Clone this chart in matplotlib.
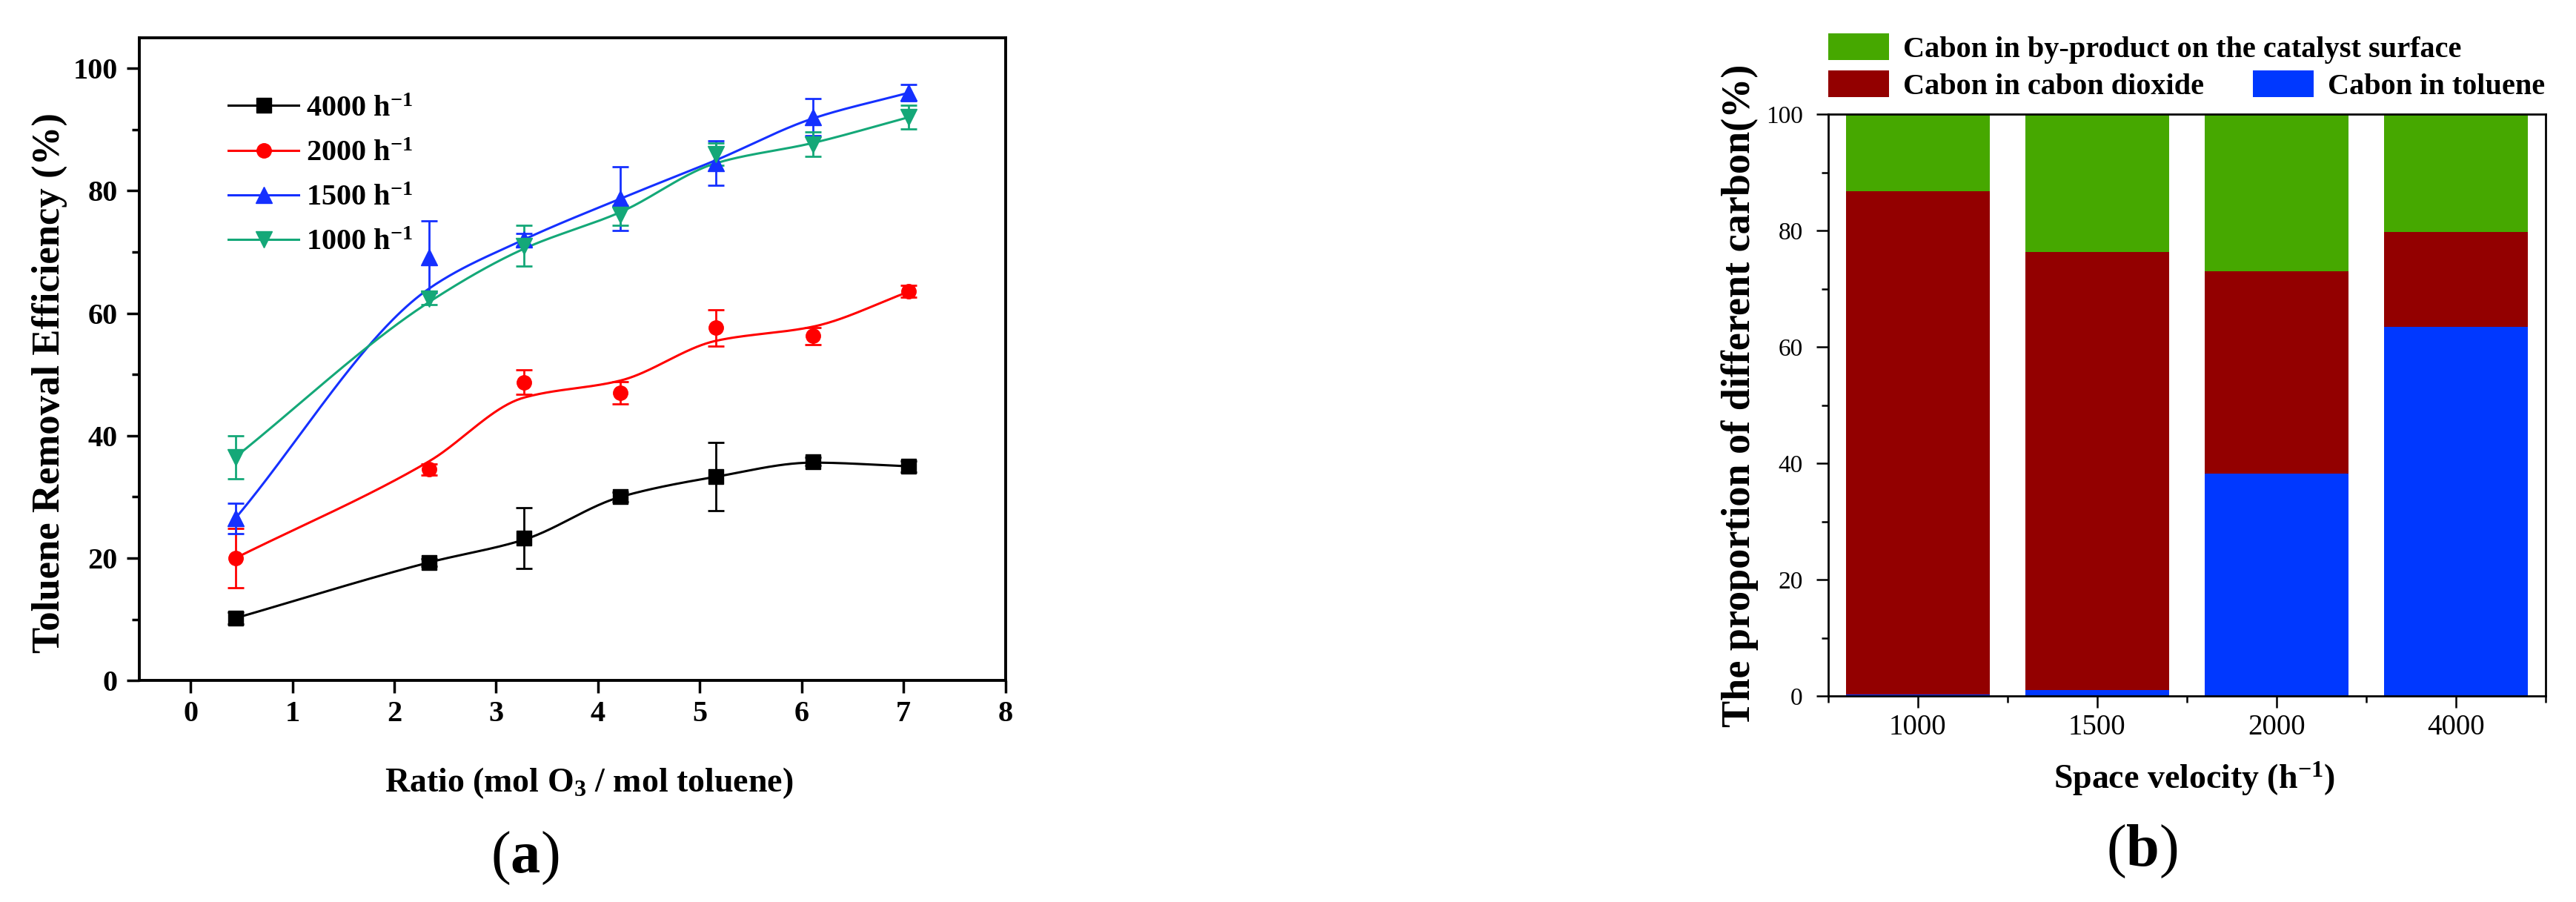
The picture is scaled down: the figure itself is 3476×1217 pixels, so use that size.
import matplotlib
matplotlib.use('Agg')
import matplotlib.pyplot as plt
import numpy as np
from matplotlib.patches import Patch

plt.rcParams['font.family'] = ['Liberation Serif', 'DejaVu Serif']
plt.rcParams['mathtext.fontset'] = 'custom'
plt.rcParams['mathtext.rm'] = 'Liberation Serif'
plt.rcParams['mathtext.bf'] = 'Liberation Serif:bold'
plt.rcParams['mathtext.it'] = 'Liberation Serif:italic'

# ---- panel (a): removal efficiency vs O3/toluene ratio
ratio = [0.44, 2.34, 3.27, 4.22, 5.16, 6.11, 7.05]
velocities = ['4000', '2000', '1500', '1000']

eff_4000 = [10.2, 19.3, 23.3, 30.0, 33.3, 35.8, 35.0]
err_4000 = [1.0, 0.6, 5.0, 0.8, 5.6, 0.7, 0.9]
fit_4000 = [10.2, 19.3, 23.0, 30.0, 33.3, 35.6, 35.0]

eff_2000 = [20.0, 34.5, 48.7, 47.0, 57.6, 56.3, 63.6]
err_2000 = [4.8, 0.9, 2.0, 1.8, 3.0, 1.4, 1.0]
fit_2000 = [20.0, 35.8, 46.2, 49.0, 55.5, 57.8, 63.5]

eff_1500 = [26.5, 69.2, 72.0, 78.7, 84.5, 92.0, 96.0]
err_1500 = [2.5, 5.9, 1.0, 5.2, 3.6, 3.0, 1.3]
fit_1500 = [26.5, 64.0, 72.0, 78.7, 85.0, 91.8, 96.0]

eff_1000 = [36.5, 62.4, 71.0, 76.0, 86.0, 87.6, 92.0]
err_1000 = [3.5, 1.0, 3.3, 1.6, 1.8, 2.0, 1.9]
fit_1000 = [36.5, 61.8, 70.5, 76.5, 84.5, 87.8, 92.0]

# ---- panel (b): carbon balance
space_velocity = ['1000', '1500', '2000', '4000']
c_toluene = np.array([0.3, 1.0, 38.2, 63.5])
c_co2 = np.array([86.5, 75.3, 34.8, 16.3])
c_byproduct = 100 - c_toluene - c_co2
legend_b = ['Cabon in by-product on the catalyst surface',
            'Cabon in cabon dioxide', 'Cabon in toluene']


def pchip(x, y, n=300):
    # monotone cubic curve through the nodes, like Origin's spline connect
    x = np.asarray(x, float)
    y = np.asarray(y, float)
    h = np.diff(x)
    d = np.diff(y) / h
    m = np.zeros_like(y)
    m[0], m[-1] = d[0], d[-1]
    for k in range(1, len(x) - 1):
        if d[k - 1] * d[k] > 0:
            w1 = 2 * h[k] + h[k - 1]
            w2 = h[k] + 2 * h[k - 1]
            m[k] = (w1 + w2) / (w1 / d[k - 1] + w2 / d[k])
    xs = np.linspace(x[0], x[-1], n)
    i = np.clip(np.searchsorted(x, xs) - 1, 0, len(x) - 2)
    t = (xs - x[i]) / h[i]
    h00 = 2 * t**3 - 3 * t**2 + 1
    h10 = t**3 - 2 * t**2 + t
    h01 = -2 * t**3 + 3 * t**2
    h11 = t**3 - t**2
    ys = h00 * y[i] + h10 * h[i] * m[i] + h01 * y[i + 1] + h11 * h[i] * m[i + 1]
    return xs, ys


fig = plt.figure(figsize=(34.76, 12.17), dpi=100)

ax1 = fig.add_axes([0.0542, 0.2454, 0.3361, 0.7129])
series = [
    (eff_4000, err_4000, fit_4000, '#000000', 's', 14),
    (eff_2000, err_2000, fit_2000, '#ff0000', 'o', 14),
    (eff_1500, err_1500, fit_1500, '#1530ff', '^', 16),
    (eff_1000, err_1000, fit_1000, '#14a878', 'v', 16),
]
handles = []
for (eff, err, fit, col, mk, ms), v in zip(series, velocities):
    xs, ys = pchip(ratio, fit)
    ax1.plot(xs, ys, color=col, lw=2.2, zorder=2)
    ax1.errorbar(ratio, eff, yerr=err, fmt=mk, color=col, ms=ms,
                 capsize=8, elinewidth=2, capthick=2, zorder=3)
    h, = ax1.plot([], [], color=col, marker=mk, ms=ms, lw=2.2,
                  label=v + r' h$^{\mathbf{-1}}$')
    handles.append(h)

ax1.set_xlim(-0.5, 8)
ax1.set_ylim(0, 105)
ax1.set_xticks(range(0, 9))
ax1.set_yticks(range(0, 101, 20))
ax1.set_yticks(range(10, 100, 20), minor=True)
ax1.tick_params(axis='both', which='major', direction='out', length=12.5, width=2.5,
                labelsize=29)
ax1.tick_params(axis='x', which='major', pad=7)
ax1.tick_params(axis='y', which='major', pad=9)
ax1.tick_params(axis='y', which='minor', direction='out', length=7, width=2.5)
for lbl in ax1.get_xticklabels() + ax1.get_yticklabels():
    lbl.set_fontweight('bold')
for sp in ax1.spines.values():
    sp.set_linewidth(2.8)
ax1.set_xlabel(r'Ratio (mol O$_{\mathbf{3}}$ / mol toluene)', fontsize=33,
               fontweight='bold')
ax1.xaxis.set_label_coords(0.519, -0.132)
ax1.set_ylabel('Toluene Removal Efficiency (%)', fontsize=38, fontweight='bold')
ax1.yaxis.set_label_coords(-0.083, 0.463)
ax1.legend(handles=handles, loc='upper left', bbox_to_anchor=(0.1026, 0.9105),
           frameon=False, prop={'weight': 'bold', 'size': 29},
           handlelength=2.36, handletextpad=0.25, labelspacing=0.57,
           borderpad=0, borderaxespad=0)

ax2 = fig.add_axes([0.7096, 0.2284, 0.2787, 0.6448])
x = np.arange(len(space_velocity))
green, dred, blue = '#46a800', '#930000', '#0038ff'
ax2.bar(x, c_toluene, 0.8, color=blue, zorder=2)
ax2.bar(x, c_co2, 0.8, bottom=c_toluene, color=dred, zorder=2)
ax2.bar(x, c_byproduct, 0.8, bottom=c_toluene + c_co2, color=green, zorder=2)
ax2.set_xlim(-0.5, 3.5)
ax2.set_ylim(0, 100)
ax2.set_xticks(x)
ax2.set_xticklabels(space_velocity)
ax2.set_xticks(np.arange(-0.5, 3.6, 1.0), minor=True)
ax2.set_yticks(range(0, 101, 20))
ax2.set_yticks(range(10, 100, 20), minor=True)
ax2.tick_params(axis='both', which='major', direction='out', length=11.5, width=1.8)
ax2.tick_params(axis='x', which='major', labelsize=28, pad=6)
ax2.tick_params(axis='y', which='major', labelsize=24, pad=13)
ax2.tick_params(axis='both', which='minor', direction='out', length=6.5, width=1.8)
for sp in ax2.spines.values():
    sp.set_linewidth(2.0)
    sp.set_zorder(5)
ax2.set_xlabel(r'Space velocity (h$^{\mathbf{-1}}$)', fontsize=33, fontweight='bold')
ax2.xaxis.set_label_coords(0.51, -0.11)
ax2.set_ylabel('The proportion of different carbon(%)', fontsize=39,
               fontweight='bold')
ax2.yaxis.set_label_coords(-0.097, 0.517)

legend_pos = [(0.7096, 0.946), (0.7096, 0.905), (0.8746, 0.905)]
for lab, col, pos in zip(legend_b, [green, dred, blue], legend_pos):
    fig.legend(handles=[Patch(facecolor=col, label=lab)], loc='center left',
               bbox_to_anchor=pos, frameon=False,
               prop={'weight': 'bold', 'size': 29}, handlelength=2.04,
               handleheight=0.99, handletextpad=0.47, borderpad=0,
               borderaxespad=0)

fig.text(708 / 3476, 1 - 1158 / 1217, r'($\mathbf{a}$)', ha='center',
         va='center', fontsize=58)
fig.text(2890 / 3476, 1 - 1149 / 1217, r'($\mathbf{b}$)', ha='center',
         va='center', fontsize=58)

fig.savefig('out.png', dpi=100)
